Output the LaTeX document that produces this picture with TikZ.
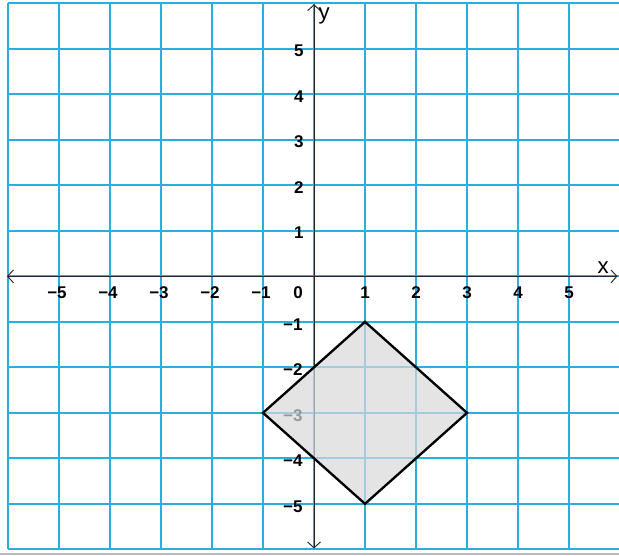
\documentclass[tikz,border=0pt]{standalone}
\usepackage{fontspec}
\setmainfont{Liberation Sans}
\usetikzlibrary{arrows.meta}
\definecolor{gridblue}{RGB}{40,174,224}
\definecolor{edgegray}{RGB}{185,185,185}

\begin{document}
\begin{tikzpicture}[x=1.53cm, y=1.365cm,
            gridline/.style={draw=gridblue, line width=1.6pt},
            axisline/.style={draw=black!85, line width=0.8pt, {Straight Barb[length=5pt,width=11pt]}-{Straight Barb[length=5pt,width=11pt]}},
            ticklabel/.style={font=\fontsize{14.5}{17}\selectfont\bfseries, inner sep=0pt},
            axislabel/.style={font=\fontsize{19}{22}\selectfont, inner sep=0pt},
            rhombus/.style={draw=black, line width=2pt, fill=black!15, fill opacity=0.7, line join=miter}]
            \useasboundingbox (-6.157,-6.125) rectangle (5.98,6.073);
            \foreach \i in {-6,...,6} {
                \draw[gridline] (\i,-6) -- (\i,6);
                \draw[gridline] (-6,\i) -- (6,\i);
            }
            \draw[edgegray, line width=2pt] (-6.157,-6.1) -- (5.98,-6.1);
            \coordinate (xleft) at (-6.02,0);
            \coordinate (xright) at (5.95,0);
            \coordinate (ybottom) at (0,-5.98);
            \coordinate (ytop) at (0,5.98);
            \draw[axisline] (xleft) -- (xright);
            \draw[axisline] (ybottom) -- (ytop);
            \node[axislabel] (xlabel) at (5.67,0.2) {x};
            \node[axislabel] (ylabel) at (0.2,5.72) {y};
            \node[ticklabel] (origin) at (-0.31,-0.36) {0};
            \foreach \i in {1,...,5} {
                \node[ticklabel] (xpos\i) at (\i,-0.36) {\i};
                \node[ticklabel] (xneg\i) at (-\i-0.04,-0.36) {−\i};
                \node[ticklabel, anchor=east] (ypos\i) at (-0.2,\i-0.045) {\i};
                \node[ticklabel, anchor=east] (yneg\i) at (-0.22,-\i-0.06) {−\i};
            }
            \coordinate (top) at (1,-1);
            \coordinate (right) at (3,-3);
            \coordinate (bottom) at (1,-5);
            \coordinate (left) at (-1,-3);
            \draw[rhombus] (top) -- (right) -- (bottom) -- (left) -- cycle;
        \end{tikzpicture}
\end{document}
